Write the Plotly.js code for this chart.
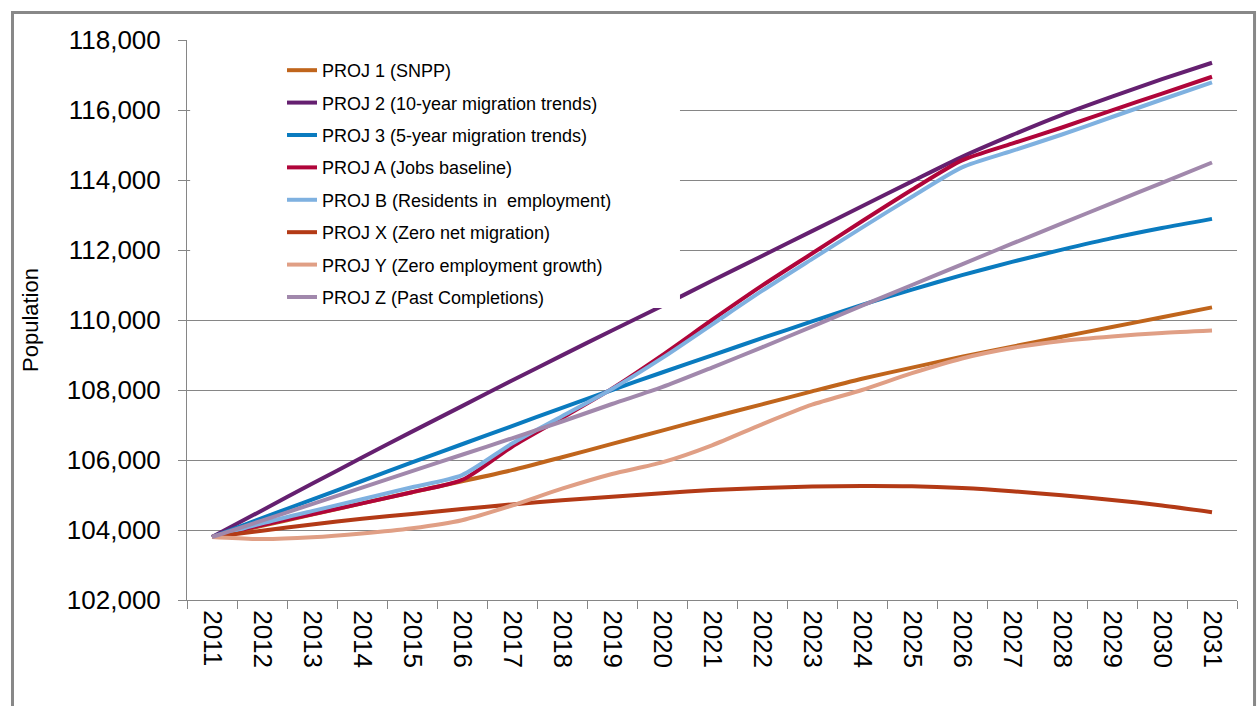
<!DOCTYPE html>
<html>
<head>
<meta charset="utf-8">
<script src="https://cdn.plot.ly/plotly-3.0.1.min.js"></script>
<style>
  html, body { margin: 0; padding: 0; background: #ffffff; }
  #chart { width: 1257px; height: 706px; }
</style>
</head>
<body>
<div id="chart"></div>
<script>
// ---- data ----
const years = ['2011','2012','2013','2014','2015','2016','2017','2018','2019','2020','2021',
               '2022','2023','2024','2025','2026','2027','2028','2029','2030','2031'];

const seriesNames = [
  'PROJ 1 (SNPP)',
  'PROJ 2 (10-year migration trends)',
  'PROJ 3 (5-year migration trends)',
  'PROJ A (Jobs baseline)',
  'PROJ B (Residents in  employment)',
  'PROJ X (Zero net migration)',
  'PROJ Y (Zero employment growth)',
  'PROJ Z (Past Completions)'
];

const seriesColors = ['#C0651C', '#652070', '#0A7BBF', '#B0053A', '#7FB1E0', '#B33A16', '#E09F85', '#A188AC'];

const proj1 = [103800,104120,104440,104760,105080,105390,105710,106080,106460,106840,107220,
               107590,107960,108320,108640,108950,109240,109520,109800,110080,110360];
const proj2 = [103800,104560,105320,106070,106810,107540,108270,108990,109700,110400,111120,
               111830,112540,113250,113960,114660,115280,115860,116380,116880,117350];
const proj3 = [103800,104340,104870,105400,105930,106450,106970,107490,108000,108500,108990,
               109480,109960,110430,110870,111280,111660,112010,112340,112630,112890];
const projA = [103800,104140,104450,104760,105080,105430,106380,107200,108040,108990,110000,
               110980,111900,112820,113720,114560,115040,115500,115990,116470,116950];
const projB = [103800,104190,104540,104880,105220,105570,106470,107250,108030,108910,109870,
               110830,111740,112640,113520,114360,114830,115300,115800,116300,116790];
const projX = [103800,103980,104160,104320,104460,104600,104730,104850,104950,105050,105140,
               105200,105240,105260,105250,105200,105110,104990,104860,104700,104510];
const projY = [103800,103740,103790,103900,104050,104280,104700,105180,105600,105930,106420,
               107020,107580,108000,108480,108900,109200,109400,109530,109630,109700];
const projZ = [103800,104270,104740,105210,105680,106150,106620,107100,107600,108080,108640,
               109220,109810,110410,111000,111590,112180,112760,113340,113920,114500];

const seriesValues = [proj1, proj2, proj3, projA, projB, projX, projY, projZ];

const yTickVals = [102000,104000,106000,108000,110000,112000,114000,116000,118000];

// ---- chart ----
const FONT = 'Liberation Sans, Arial, sans-serif';

const traces = seriesNames.map((name, i) => ({
  type: 'scatter',
  mode: 'lines',
  name: name,
  x: years,
  y: seriesValues[i],
  legendgroup: 'g' + i,
  line: { color: seriesColors[i], width: 4, shape: 'spline', smoothing: 0.7 },
  hoverinfo: 'x+y+name'
}));

const layout = {
  width: 1257,
  height: 706,
  paper_bgcolor: '#ffffff',
  plot_bgcolor: '#ffffff',
  margin: { l: 187, r: 20, t: 40, b: 106 },
  showlegend: true,
  legend: {
    x: 0.0905, y: 0.9786, xanchor: 'left', yanchor: 'top',
    bgcolor: '#ffffff',
    borderwidth: 0,
    tracegroupgap: 6,
    font: { family: FONT, size: 18, color: '#000000' }
  },
  xaxis: {
    type: 'category',
    range: [-0.5, 20.5],
    showgrid: false,
    zeroline: false,
    showline: true,
    linecolor: '#868686',
    linewidth: 1,
    ticks: 'outside',
    tickson: 'boundaries',
    ticklen: 8,
    tickcolor: '#868686',
    tickwidth: 1,
    tickangle: 90,
    ticklabelstandoff: 4,
    tickfont: { family: FONT, size: 26, color: '#000000' }
  },
  yaxis: {
    range: [102000, 118000],
    tickvals: yTickVals,
    tickformat: ',.0f',
    showgrid: true,
    gridcolor: '#868686',
    gridwidth: 1,
    zeroline: false,
    showline: true,
    linecolor: '#868686',
    linewidth: 1,
    ticks: 'outside',
    ticklen: 8,
    tickcolor: '#868686',
    tickwidth: 1,
    ticklabelstandoff: 12,
    tickfont: { family: FONT, size: 26, color: '#000000' },
    title: { text: 'Population', standoff: 22, font: { family: FONT, size: 22, color: '#000000' } }
  },
  shapes: [
    // white legend panel (matches the reference legend box extent)
    { type: 'rect', xref: 'paper', yref: 'paper', layer: 'above',
      x0: 0.003, x1: 0.4695, y0: 0.5214, y1: 0.9964,
      fillcolor: '#ffffff', line: { width: 0 } },
    // outer chart border
    { type: 'rect', xref: 'paper', yref: 'paper', layer: 'below',
      x0: -0.1662, x1: 1.0167, y0: -0.2143, y1: 1.0491,
      fillcolor: 'rgba(0,0,0,0)', line: { color: '#888888', width: 3 } }
  ]
};

Plotly.newPlot('chart', traces, layout, { displayModeBar: false, staticPlot: true });
</script>
</body>
</html>
